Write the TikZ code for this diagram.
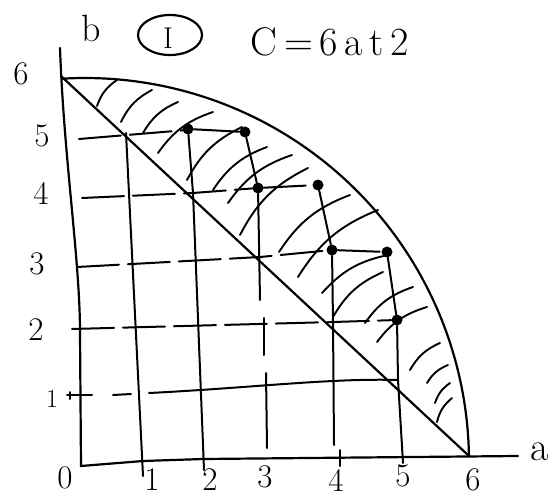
\documentclass[tikz,border=0pt]{standalone}
\begin{document}
\begin{tikzpicture}[x=1pt,y=-1pt,
  ink/.style={line width=2.2pt, line cap=round, line join=round},
  gridv/.style={line width=2pt, line cap=round},
  gridh/.style={line width=2pt, line cap=round, dash pattern=on 42pt off 9pt},
  hatch/.style={line width=1.9pt, line cap=round},
  pt/.style={circle, fill=black, inner sep=0pt, minimum size=11pt},
  lab/.style={font=\fontsize{33}{36}\selectfont, inner sep=0pt}]
\useasboundingbox (0,0) rectangle (553,497);
% key coordinates
\coordinate (O) at (81,466);
\coordinate (B6) at (62,77);
\coordinate (A6) at (469,456);
\coordinate (Yt) at (60,48);
\coordinate (Xe) at (518,456);
% axes
\draw[ink] (Yt) .. controls (64,160) and (80,260) .. (80,333) -- (O) -- (143,461) -- (203,459) -- (Xe);
% hypotenuse and arc
\draw[ink] (B6) -- (A6);
\draw[ink] plot[domain=-93.4:-0.9, samples=80, smooth] ({85+384*cos(\x)},{462+384*sin(\x)});
% points
\node[pt] (p25) at (188,129) {};
\node[pt] (p35) at (245,132) {};
\node[pt] (p34) at (258,188) {};
\node[pt] (p44) at (318,185) {};
\node[pt] (p43) at (332,250) {};
\node[pt] (p53) at (387,252) {};
\node[pt] (p52) at (397,320) {};
% junctions on hypotenuse
\coordinate (h24) at (193,193);
\coordinate (h33) at (260,257);
\coordinate (h42) at (333,322);
\coordinate (h51) at (398,380);
% vertical grid lines
\draw[gridv] (126,133) -- (143,476);
\draw[gridv] (p25) -- (h24) -- (204,470);
\draw[gridv] (p35) -- (p34) -- (260,300);
\draw[gridv] (264,318) -- (264,355);
\draw[gridv] (266,373) -- (267,448);
\draw[gridv] (p44) -- (p43) -- (h42) -- (334,445);
\draw[gridv] (340,450) -- (340,466);
\draw[gridv] (p53) -- (p52) -- (h51) -- (403,463);
% horizontal grid lines
\draw[gridh] (79,139) -- (187,130);
\draw[gridv] (p25) -- (p35);
\draw[gridh] (82,198) -- (h24) -- (p34) -- (p44);
\draw[gridh] (77,267) -- (h33) -- (p43) -- (p53);
\draw[gridh] (72,329) -- (h42) -- (p52);
\draw[gridv] (67,395) -- (92,395);
\draw[gridv] (113,395) -- (131,394);
\draw[gridv] (149,393) .. controls (250,388) and (330,378) .. (h51);
\draw[gridv] (70,392) -- (70,399);
% hatching
\foreach \ux/\uy/\lx/\ly in {
  117/80/97/106, 152/90/121/122, 178/102/143/133, 213/112/158/153,
  242/127/187/180, 267/147/213/190, 292/155/228/203, 308/168/240/235,
  350/195/279/252, 378/210/298/277, 388/255/322/293, 383/272/333/317,
  413/287/365/323, 427/307/377/342, 440/343/410/370, 448/365/427/383,
  450/383/435/403, 452/398/437/422}
  \draw[hatch] (\ux,\uy) to[bend right=18] (\lx,\ly);
% labels
\node[lab] (ly6) at (21,74) {6};
\node[lab] (ly5) at (42,136) {5};
\node[lab] (ly4) at (41,193) {4};
\node[lab] (ly3) at (37,264) {3};
\node[lab] (ly2) at (36,330) {2};
\node[lab, font=\fontsize{26}{30}\selectfont] (ly1) at (52,399) {1};
\node[lab] (lx0) at (65,478) {0};
\node[lab] (lx1) at (152,480) {1};
\node[lab] (lx2) at (210,480) {2};
\node[lab] (lx3) at (265,477) {3};
\node[lab] (lx4) at (336,480) {4};
\node[lab] (lx5) at (403,476) {5};
\node[lab] (lx6) at (473,480) {6};
\node[lab, font=\fontsize{40}{44}\selectfont] (la) at (540,452) {a};
\node[lab, font=\fontsize{38}{42}\selectfont] (lb) at (91,28) {b};
\node[lab, font=\fontsize{30}{34}\selectfont] (lI) at (168,38) {I};
\draw[ink] (170,35) ellipse [x radius=32, y radius=20];
\node[lab, font=\fontsize{40}{44}\selectfont] (lC) at (330,42) {C\,=\,6\,a\,t\,2};
\end{tikzpicture}
\end{document}
